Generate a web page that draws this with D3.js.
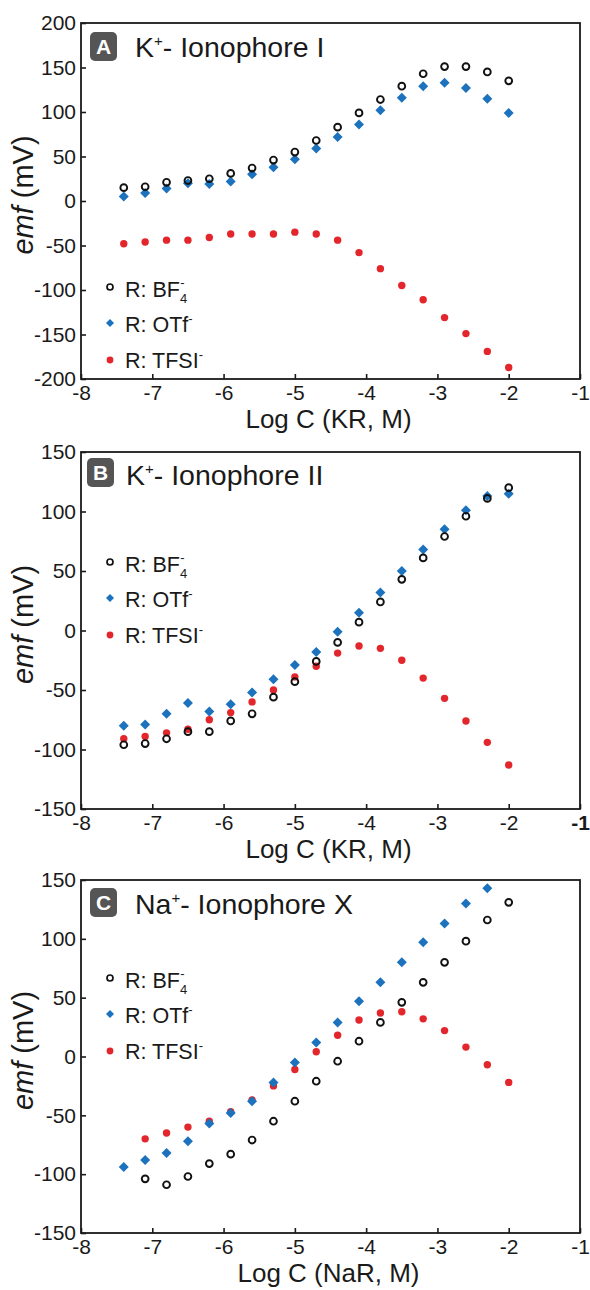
<!DOCTYPE html>
<html>
<head>
<meta charset="utf-8">
<script src="https://cdn.jsdelivr.net/npm/d3@7"></script>
<style>
  body { margin: 0; background: #fff; }
  text { font-family: "Liberation Sans", Arial, Helvetica, sans-serif; fill: #1a1a1a; }
</style>
</head>
<body>
<svg id="fig" width="590" height="1290"></svg>
<script>
// x positions (log C) shared by all panels
var logC = [-7.4, -7.1, -6.8, -6.5, -6.2, -5.9, -5.6, -5.3, -5.0, -4.7,
            -4.4, -4.1, -3.8, -3.5, -3.2, -2.9, -2.6, -2.3, -2.0];
var xTicks = [-8, -7, -6, -5, -4, -3, -2, -1];

// panel A : K+ ionophore I
var aBF4  = [15, 16, 21, 23, 25, 31, 37, 46, 55, 68, 83, 99, 114, 129, 143, 151, 151, 145, 135];
var aOTf  = [5, 9, 14, 20, 19, 22, 30, 38, 47, 59, 72, 86, 102, 116, 129, 133, 127, 115, 99];
var aTFSI = [-48, -46, -44, -44, -41, -37, -37, -37, -35, -37, -44, -58, -76, -95, -111, -131, -149, -169, -187];

// panel B : K+ ionophore II
var bBF4  = [-96, -95, -91, -85, -85, -76, -70, -56, -43, -26, -10, 7, 24, 43, 61, 79, 96, 111, 120];
var bOTf  = [-80, -79, -70, -61, -68, -62, -52, -41, -29, -18, -1, 15, 32, 50, 68, 85, 101, 113, 115];
var bTFSI = [-91, -89, -86, -83, -75, -69, -60, -50, -39, -30, -19, -13, -15, -25, -40, -57, -76, -94, -113];

// panel C : Na+ ionophore X (null = no point)
var cBF4  = [null, -104, -109, -102, -91, -83, -71, -55, -38, -21, -4, 13, 29, 46, 63, 80, 98, 116, 131];
var cOTf  = [-94, -88, -82, -72, -57, -48, -38, -22, -5, 12, 29, 47, 63, 80, 97, 113, 130, 143, null];
var cTFSI = [null, -70, -65, -60, -55, -47, -37, -25, -11, 4, 18, 31, 37, 38, 32, 22, 8, -7, -22];

var yTicksA = [-200, -150, -100, -50, 0, 50, 100, 150, 200];
var yTicksBC = [-150, -100, -50, 0, 50, 100, 150];

var RED = "#e3262b", BLUE = "#1c72bd", INK = "#1a1a1a";

var panels = [
  {tag: "A", ion: "K", rest: "- Ionophore I", xTitle: "Log C (KR, M)",
   top: 23, bottom: 379, yDomain: [-200, 200], yTicks: yTicksA,
   bf4: aBF4, otf: aOTf, tfsi: aTFSI, badgeX: 90, badgeY: 32, titleX: 135, titleY: 57,
   legendY: 297},
  {tag: "B", ion: "K", rest: "- Ionophore II", xTitle: "Log C (KR, M)",
   top: 452, bottom: 809, yDomain: [-150, 150], yTicks: yTicksBC,
   bf4: bBF4, otf: bOTf, tfsi: bTFSI, badgeX: 87, badgeY: 458, titleX: 126, titleY: 485,
   legendY: 572},
  {tag: "C", ion: "Na", rest: "- Ionophore X", xTitle: "Log C (NaR, M)",
   top: 880, bottom: 1233, yDomain: [-150, 150], yTicks: yTicksBC,
   bf4: cBF4, otf: cOTf, tfsi: cTFSI, badgeX: 90, badgeY: 888, titleX: 135, titleY: 914,
   legendY: 988}
];

var svg = d3.select("#fig");
var left = 81, right = 580;

var x = d3.scaleLinear().domain([-8, -1]).range([left, right]);
var diamond = d3.symbol().type(d3.symbolSquare);

function pts(vals) {
  return vals.map((v, i) => ({x: logC[i], y: v})).filter(d => d.y != null);
}

panels.forEach(p => {
  var g = svg.append("g");
  var y = d3.scaleLinear().domain(p.yDomain).range([p.bottom, p.top]);

  // axes with inward ticks
  var xa = g.append("g")
    .attr("transform", "translate(0," + p.bottom + ")")
    .call(d3.axisBottom(x).tickValues(xTicks).tickSize(-5).tickPadding(6).tickFormat(d => String(d)));
  var ya = g.append("g")
    .attr("transform", "translate(" + left + ",0)")
    .call(d3.axisLeft(y).tickValues(p.yTicks).tickSize(-5).tickPadding(5).tickFormat(d => String(d)));
  [xa, ya].forEach(a => {
    a.select(".domain").remove();
    a.selectAll("line").attr("stroke", INK).attr("stroke-width", 1.6);
    a.selectAll("text").style("font-size", "21px").attr("fill", INK);
  });
  if (p.tag === "B") xa.selectAll("text").filter(d => d === -1).style("font-weight", "bold");

  // frame
  g.append("rect")
    .attr("x", left).attr("y", p.top)
    .attr("width", right - left).attr("height", p.bottom - p.top)
    .attr("fill", "none").attr("stroke", INK).attr("stroke-width", 1.8);

  // data: TFSI, then OTf, then BF4 on top
  g.selectAll(".tfsi").data(pts(p.tfsi)).enter().append("circle")
    .attr("cx", d => x(d.x)).attr("cy", d => y(d.y)).attr("r", 3.7).attr("fill", RED);
  g.selectAll(".otf").data(pts(p.otf)).enter().append("path")
    .attr("d", diamond.size(50)())
    .attr("transform", d => "translate(" + x(d.x) + "," + y(d.y) + ") rotate(45)")
    .attr("fill", BLUE);
  g.selectAll(".bf4").data(pts(p.bf4)).enter().append("circle")
    .attr("cx", d => x(d.x)).attr("cy", d => y(d.y)).attr("r", 3.4)
    .attr("fill", "none").attr("stroke", "#111").attr("stroke-width", 1.9);

  // badge + title
  g.append("rect").attr("x", p.badgeX).attr("y", p.badgeY).attr("width", 27).attr("height", 29)
    .attr("rx", 5).attr("fill", "#555");
  g.append("text").attr("x", p.badgeX + 13.5).attr("y", p.badgeY + 22)
    .attr("text-anchor", "middle").style("font-size", "21px").style("font-weight", "bold")
    .style("fill", "#fff").text(p.tag);
  var t = g.append("text").attr("x", p.titleX).attr("y", p.titleY).style("font-size", "28.5px");
  t.append("tspan").text(p.ion);
  t.append("tspan").attr("dy", -11).style("font-size", "15px").text("+");
  t.append("tspan").attr("dy", 11).text(p.rest);

  // legend
  var ly = [p.legendY, p.legendY + 35, p.legendY + 71];
  g.append("circle").attr("cx", 110).attr("cy", ly[0] - 10).attr("r", 3)
    .attr("fill", "none").attr("stroke", "#111").attr("stroke-width", 1.7);
  g.append("path").attr("d", diamond.size(32)())
    .attr("transform", "translate(110," + (ly[1] - 9) + ") rotate(45)").attr("fill", BLUE);
  g.append("circle").attr("cx", 110).attr("cy", ly[2] - 8).attr("r", 3.4).attr("fill", RED);

  var l1 = g.append("text").attr("x", 125).attr("y", ly[0]).style("font-size", "21.5px");
  l1.append("tspan").text("R: BF");
  l1.append("tspan").attr("dy", 6).style("font-size", "13px").text("4");
  l1.append("tspan").attr("dx", -7).attr("dy", -16).style("font-size", "13px").text("-");
  var l2 = g.append("text").attr("x", 125).attr("y", ly[1]).style("font-size", "21.5px");
  l2.append("tspan").text("R: OTf");
  l2.append("tspan").attr("dy", -9).style("font-size", "13px").text("-");
  var l3 = g.append("text").attr("x", 125).attr("y", ly[2]).style("font-size", "21.5px");
  l3.append("tspan").text("R: TFSI");
  l3.append("tspan").attr("dy", -9).style("font-size", "13px").text("-");

  // axis titles
  g.append("text").attr("x", (left + right) / 2 - 2).attr("y", p.bottom + 49)
    .attr("text-anchor", "middle").style("font-size", "26px").text(p.xTitle);
  var yt = g.append("text")
    .attr("transform", "translate(33," + ((p.top + p.bottom) / 2 - 6) + ") rotate(-90)")
    .attr("text-anchor", "middle").style("font-size", "29px");
  yt.append("tspan").style("font-style", "italic").text("emf");
  yt.append("tspan").text(" (mV)");
});
</script>
</body>
</html>
